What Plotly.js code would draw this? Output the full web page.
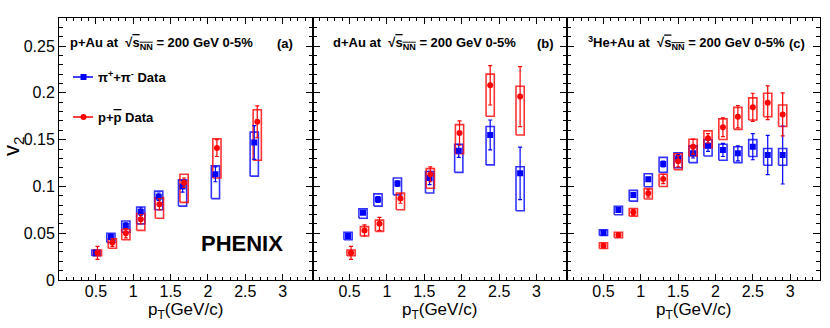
<!DOCTYPE html>
<html>
<head>
<meta charset="utf-8">
<script src="https://cdn.plot.ly/plotly-3.0.1.min.js"></script>
<style>
  body { margin: 0; background: #fff; }
  #plot { width: 830px; height: 328px; }
</style>
</head>
<body>
<div id="plot"></div>
<script>

// ---- panel (a) p+Au ----
var ptPiA    = [0.50, 0.70, 0.90, 1.10, 1.34, 1.66, 2.10, 2.62];
var v2PiA    = [0.029, 0.046, 0.058, 0.073, 0.089, 0.100, 0.113, 0.147];
var statPiA  = [0.002, 0.003, 0.003, 0.004, 0.004, 0.006, 0.008, 0.018];
var sysUpPiA = [0.003, 0.004, 0.005, 0.005, 0.006, 0.007, 0.009, 0.011];
var sysDnPiA = [0.003, 0.006, 0.007, 0.013, 0.014, 0.021, 0.026, 0.036];

var ptPrA    = [0.52, 0.72, 0.90, 1.10, 1.35, 1.68, 2.12, 2.66];
var v2PrA    = [0.029, 0.040, 0.050, 0.065, 0.081, 0.104, 0.141, 0.169];
var statPrA  = [0.007, 0.004, 0.005, 0.005, 0.006, 0.005, 0.009, 0.017];
var sysUpPrA = [0.003, 0.004, 0.004, 0.006, 0.007, 0.009, 0.010, 0.013];
var sysDnPrA = [0.003, 0.006, 0.007, 0.012, 0.015, 0.021, 0.032, 0.041];

// ---- panel (b) d+Au ----
var ptPiB    = [0.48, 0.68, 0.88, 1.14, 1.57, 1.96, 2.38, 2.78];
var v2PiB    = [0.047, 0.072, 0.086, 0.103, 0.109, 0.138, 0.155, 0.114];
var statPiB  = [0.002, 0.002, 0.003, 0.003, 0.007, 0.007, 0.016, 0.028];
var sysUpPiB = [0.004, 0.004, 0.006, 0.006, 0.007, 0.007, 0.009, 0.007];
var sysDnPiB = [0.004, 0.006, 0.007, 0.012, 0.016, 0.023, 0.032, 0.040];

var ptPrB    = [0.52, 0.70, 0.90, 1.18, 1.58, 1.97, 2.38, 2.78];
var v2PrB    = [0.029, 0.053, 0.060, 0.087, 0.113, 0.157, 0.208, 0.196];
var statPrB  = [0.007, 0.006, 0.007, 0.005, 0.008, 0.013, 0.021, 0.032];
var sysUpPrB = [0.003, 0.004, 0.004, 0.006, 0.006, 0.009, 0.012, 0.011];
var sysDnPrB = [0.003, 0.006, 0.008, 0.012, 0.015, 0.022, 0.033, 0.041];

// ---- panel (c) 3He+Au ----
var ptPiC    = [0.5, 0.7, 0.9, 1.1, 1.3, 1.5, 1.7, 1.9, 2.1, 2.3, 2.5, 2.7, 2.9];
var v2PiC    = [0.0506, 0.0748, 0.0908, 0.1076, 0.124, 0.130, 0.1354, 0.1435, 0.139, 0.1354, 0.1425, 0.1336, 0.1336];
var statPiC  = [0.001, 0.002, 0.002, 0.002, 0.003, 0.004, 0.005, 0.006, 0.007, 0.008, 0.014, 0.021, 0.031];
var sysUpPiC = [0.003, 0.004, 0.005, 0.006, 0.007, 0.006, 0.008, 0.0065, 0.006, 0.007, 0.0075, 0.007, 0.007];
var sysDnPiC = [0.003, 0.005, 0.0065, 0.008, 0.009, 0.010, 0.010, 0.011, 0.011, 0.010, 0.0105, 0.011, 0.011];

var ptPrC    = [0.5, 0.7, 0.9, 1.1, 1.3, 1.5, 1.7, 1.9, 2.1, 2.3, 2.5, 2.7, 2.9];
var v2PrC    = [0.0367, 0.0481, 0.0723, 0.0926, 0.108, 0.127, 0.1425, 0.1514, 0.1632, 0.1745, 0.1846, 0.1895, 0.177];
var statPrC  = [0.001, 0.001, 0.003, 0.004, 0.005, 0.006, 0.008, 0.005, 0.010, 0.012, 0.015, 0.018, 0.023];
var sysUpPrC = [0.003, 0.003, 0.004, 0.005, 0.005, 0.008, 0.008, 0.008, 0.009, 0.010, 0.010, 0.010, 0.010];
var sysDnPrC = [0.003, 0.003, 0.004, 0.006, 0.008, 0.009, 0.010, 0.010, 0.013, 0.0135, 0.0136, 0.015, 0.013];

var panelTitles = ['p+Au', 'd+Au', '<sup>3</sup>He+Au'];
var panelTags   = ['(a)', '(b)', '(c)'];
var legendNames = ['<b>\u03c0<sup>+</sup>+\u03c0<sup>-</sup> Data</b>',
                   '<b>p+<span style="text-decoration:overline">p</span> Data</b>'];

var BLUE = '#0000ff', RED = '#ff0000';
var FONT = 'Liberation Sans, Arial, Helvetica, sans-serif';

// plot area in pixels
var L = 59, R = 820, T = 18, B = 280;
function px(xp) { return (xp - L) / (R - L); }
function py(yp) { return (B - yp) / (B - T); }

var edges = [59, 312.5, 566.5, 820];

// sys box outlines as closed paths
function boxTrace(x, y, up, dn, color, n) {
    var hw = 0.055, xs = [], ys = [];
    for (var i = 0; i < x.length; i++) {
        xs.push(x[i] - hw, x[i] + hw, x[i] + hw, x[i] - hw, x[i] - hw, null);
        ys.push(y[i] - dn[i], y[i] - dn[i], y[i] + up[i], y[i] + up[i], y[i] - dn[i], null);
    }
    return {x: xs, y: ys, type: 'scatter', mode: 'lines',
            line: {color: color, width: 1.6}, hoverinfo: 'skip', showlegend: false,
            xaxis: 'x' + n, yaxis: 'y' + n};
}

function pointTrace(x, y, stat, color, symbol, n) {
    return {x: x, y: y, type: 'scatter', mode: 'markers',
            marker: {color: color, symbol: symbol, size: 6},
            error_y: {type: 'data', array: stat, color: color, thickness: 1.2, width: 2},
            showlegend: false, xaxis: 'x' + n, yaxis: 'y' + n};
}

var sets = [
    [ptPiA, v2PiA, statPiA, sysUpPiA, sysDnPiA, ptPrA, v2PrA, statPrA, sysUpPrA, sysDnPrA],
    [ptPiB, v2PiB, statPiB, sysUpPiB, sysDnPiB, ptPrB, v2PrB, statPrB, sysUpPrB, sysDnPrB],
    [ptPiC, v2PiC, statPiC, sysUpPiC, sysDnPiC, ptPrC, v2PrC, statPrC, sysUpPrC, sysDnPrC]
];

var traces = [];
var layout = {
    width: 830, height: 328,
    margin: {l: L, r: 830 - R, t: T, b: 328 - B},
    paper_bgcolor: '#fff', plot_bgcolor: '#fff',
    font: {family: FONT, color: '#000'},
    showlegend: false,
    annotations: [],
    shapes: []
};

for (var p = 0; p < 3; p++) {
    var n = p + 1, s = sets[p];
    var sfx = (n === 1) ? '' : String(n);

    traces.push(boxTrace(s[0], s[1], s[3], s[4], 'rgba(0,0,255,0.8)', sfx));
    traces.push(boxTrace(s[5], s[6], s[8], s[9], 'rgba(255,0,0,0.8)', sfx));
    traces.push(pointTrace(s[0], s[1], s[2], BLUE, 'square', sfx));
    traces.push(pointTrace(s[5], s[6], s[7], RED, 'circle', sfx));

    var d0 = px(edges[p]), d1 = px(edges[p + 1]);

    layout['xaxis' + sfx] = {
        domain: [d0, d1], anchor: 'y' + sfx, range: [0.005, 3.4],
        tick0: 0, dtick: 0.5, ticks: 'inside', ticklen: 6, tickwidth: 1, tickcolor: '#000',
        minor: {dtick: 0.1, tick0: 0, ticks: 'inside', ticklen: 3, tickcolor: '#000', showgrid: false},
        showline: true, linecolor: '#000', linewidth: 1, mirror: 'allticks',
        showgrid: false, zeroline: false, tickfont: {size: 16, family: FONT},
        ticklabelstandoff: -3
    };
    layout['yaxis' + sfx] = {
        domain: [0, 1], anchor: 'x' + sfx, range: [0, 0.28],
        tick0: 0, dtick: 0.05, ticks: 'inside', ticklen: 7, tickwidth: 1, tickcolor: '#000',
        minor: {dtick: 0.01, tick0: 0, ticks: 'inside', ticklen: 4, tickcolor: '#000', showgrid: false},
        showline: true, linecolor: '#000', linewidth: 1, mirror: 'allticks',
        showgrid: false, zeroline: false, tickfont: {size: 16, family: FONT},
        showticklabels: (n === 1), ticklabelstandoff: 0
    };

    // x title per panel
    layout.annotations.push({
        xref: 'paper', yref: 'paper', x: (d0 + d1) / 2, y: py(311),
        xanchor: 'center', yanchor: 'middle', showarrow: false,
        text: 'p<sub>T</sub>(GeV/c)', font: {size: 17, family: FONT}
    });
}

// panel headers
var titleLeft = [68, 331, 586];
var tagRight  = [295, 556, 807];
for (var p = 0; p < 3; p++) {
    layout.annotations.push({
        xref: 'paper', yref: 'paper', x: px(titleLeft[p]), y: py(43),
        xanchor: 'left', yanchor: 'middle', showarrow: false,
        text: '<b>' + panelTitles[p] + ' at  \u221a<span style="text-decoration:overline">s<sub>NN</sub></span> = 200 GeV 0-5%</b>',
        font: {size: 13, family: FONT}
    });
    layout.annotations.push({
        xref: 'paper', yref: 'paper', x: px(tagRight[p]), y: py(43),
        xanchor: 'right', yanchor: 'middle', showarrow: false,
        text: '<b>' + panelTags[p] + '</b>', font: {size: 13, family: FONT}
    });
}

// y title
layout.annotations.push({
    xref: 'paper', yref: 'paper', x: px(13), y: py(146),
    xanchor: 'center', yanchor: 'middle', showarrow: false, textangle: -90,
    text: 'v<sub>2</sub>', font: {size: 22, family: FONT}
});

// PHENIX label
layout.annotations.push({
    xref: 'paper', yref: 'paper', x: px(242), y: py(243),
    xanchor: 'center', yanchor: 'middle', showarrow: false,
    text: '<b>PHENIX</b>', font: {size: 22, family: FONT}
});

// legend keys (line + marker) and texts, drawn in panel (a)
var legendRows = [77, 117];
var legendColors = [BLUE, RED];
for (var k = 0; k < 2; k++) {
    var yk = py(legendRows[k]);
    layout.shapes.push({type: 'line', xref: 'paper', yref: 'paper',
                        x0: px(73), x1: px(93), y0: yk, y1: yk,
                        line: {color: legendColors[k], width: 1.5}});
    layout.shapes.push({type: (k === 0) ? 'rect' : 'circle', xref: 'paper', yref: 'paper',
                        x0: px(80.5), x1: px(86.5), y0: py(legendRows[k] + 3), y1: py(legendRows[k] - 3),
                        fillcolor: legendColors[k], line: {width: 0}});
    layout.annotations.push({
        xref: 'paper', yref: 'paper', x: px(96), y: yk,
        xanchor: 'left', yanchor: 'middle', showarrow: false,
        text: legendNames[k], font: {size: 13, family: FONT}
    });
}

Plotly.newPlot('plot', traces, layout, {staticPlot: true});

</script>
</body>
</html>
